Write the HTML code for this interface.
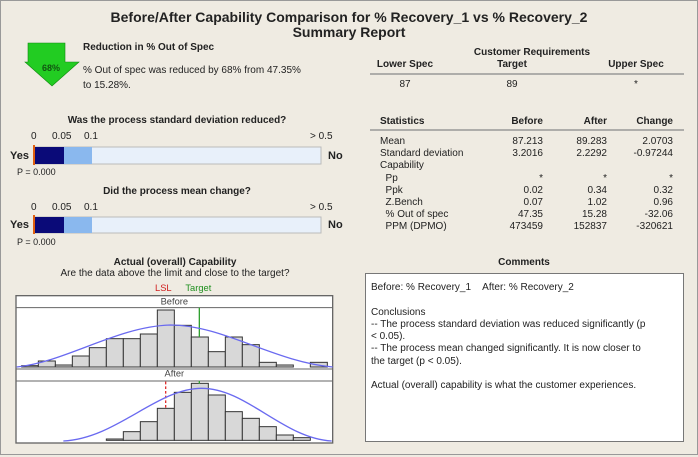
<!DOCTYPE html>
<html><head><meta charset="utf-8"><style>
body{margin:0;width:698px;height:457px;overflow:hidden;background:#efebe2;font-family:"Liberation Sans","DejaVu Sans",sans-serif;color:#222;}
.a{position:absolute;white-space:nowrap;font-size:10px;line-height:12px;}
.b{font-weight:bold;}
.c{transform:translateX(-50%);}
.r{transform:translateX(-100%);}
</style></head><body>
<div style="position:absolute;left:0;top:0;width:696px;height:453px;border:1px solid #999;"></div>
<div class="a b c" style="left:349px;top:9px;font-size:14px;line-height:16px;">Before/After Capability Comparison for % Recovery_1 vs % Recovery_2</div>
<div class="a b c" style="left:349px;top:24px;font-size:14px;line-height:16px;">Summary Report</div>
<svg style="position:absolute;left:0;top:0" width="698" height="457">
<polygon points="28,43 65,43 65,62 79,62 52,86 25,62 28,62" fill="#22cc22" stroke="#118811" stroke-width="0.6"/>
<text x="51" y="71" font-size="9" font-weight="bold" text-anchor="middle" fill="#115511" font-family="Liberation Sans">68%</text>
<rect x="34" y="147" width="287" height="17" fill="#e8f0fa" stroke="#bbb"/>
<rect x="34" y="147" width="30" height="17" fill="#0a0a78"/>
<rect x="64" y="147" width="28" height="17" fill="#8ab8ee"/>
<rect x="33" y="145" width="2" height="20" fill="#e06010"/>
<rect x="34" y="217" width="287" height="16" fill="#e8f0fa" stroke="#bbb"/>
<rect x="34" y="217" width="30" height="16" fill="#0a0a78"/>
<rect x="64" y="217" width="28" height="16" fill="#8ab8ee"/>
<rect x="33" y="215" width="2" height="19" fill="#e06010"/>
<line x1="370" y1="74" x2="684" y2="74" stroke="#888" stroke-width="1.2"/>
<line x1="370" y1="130" x2="684" y2="130" stroke="#888" stroke-width="1.2"/>
<rect x="365.5" y="273.5" width="318" height="168" fill="#fff" stroke="#777"/>
</svg>
<div class="a b" style="left:83px;top:42px;">Reduction in % Out of Spec</div>
<div class="a" style="left:83px;top:65px;">% Out of spec was reduced by 68% from 47.35%</div>
<div class="a" style="left:83px;top:80px;">to 15.28%.</div>
<div class="a b c" style="left:177px;top:115px;">Was the process standard deviation reduced?</div>
<div class="a" style="left:31px;top:131px;">0</div><div class="a" style="left:52px;top:131px;">0.05</div><div class="a" style="left:84px;top:131px;">0.1</div><div class="a" style="left:310px;top:131px;">&gt; 0.5</div>
<div class="a b" style="left:10px;top:150px;font-size:11px;">Yes</div><div class="a b" style="left:328px;top:150px;font-size:11px;">No</div>
<div class="a" style="left:17px;top:166px;font-size:9px;">P = 0.000</div>
<div class="a b c" style="left:177px;top:186px;">Did the process mean change?</div>
<div class="a" style="left:31px;top:202px;">0</div><div class="a" style="left:52px;top:202px;">0.05</div><div class="a" style="left:84px;top:202px;">0.1</div><div class="a" style="left:310px;top:202px;">&gt; 0.5</div>
<div class="a b" style="left:10px;top:219px;font-size:11px;">Yes</div><div class="a b" style="left:328px;top:219px;font-size:11px;">No</div>
<div class="a" style="left:17px;top:236px;font-size:9px;">P = 0.000</div>
<div class="a b c" style="left:175px;top:257px;">Actual (overall) Capability</div>
<div class="a c" style="left:175px;top:268px;">Are the data above the limit and close to the target?</div>
<svg style="position:absolute;left:0;top:255px" width="350" height="202" viewBox="0 0 1050 606">
<rect x="48" y="122" width="950" height="442" fill="#fff" stroke="#666" stroke-width="4"/>
<line x1="48" y1="158" x2="998" y2="158" stroke="#666" stroke-width="3"/>
<line x1="48" y1="342" x2="998" y2="342" stroke="#666" stroke-width="3"/>
<line x1="48" y1="378" x2="998" y2="378" stroke="#666" stroke-width="3"/>
<text x="490" y="108" font-size="28" fill="#d02020" text-anchor="middle" font-family="Liberation Sans">LSL</text>
<text x="595" y="108" font-size="28" fill="#209020" text-anchor="middle" font-family="Liberation Sans">Target</text>
<text x="523" y="148" font-size="28" fill="#444" text-anchor="middle" font-family="Liberation Sans">Before</text>
<text x="523" y="365" font-size="28" fill="#444" text-anchor="middle" font-family="Liberation Sans">After</text>
<g fill="#d8d8d8" stroke="#333" stroke-width="3">
<rect x="65" y="332" width="50" height="4"/><rect x="115" y="318" width="51" height="18"/><rect x="166" y="330" width="51" height="6"/>
<rect x="217" y="303" width="51" height="33"/><rect x="268" y="278" width="51" height="58"/><rect x="319" y="251" width="51" height="85"/>
<rect x="370" y="251" width="51" height="85"/><rect x="421" y="237" width="51" height="99"/><rect x="472" y="165" width="51" height="171"/>
<rect x="523" y="211" width="51" height="125"/><rect x="574" y="246" width="51" height="90"/><rect x="625" y="290" width="51" height="46"/>
<rect x="676" y="246" width="51" height="90"/><rect x="727" y="269" width="51" height="67"/><rect x="778" y="322" width="51" height="14"/>
<rect x="829" y="330" width="51" height="6"/><rect x="931" y="322" width="51" height="14"/>
<rect x="319" y="552" width="51" height="4"/><rect x="370" y="530" width="51" height="26"/><rect x="421" y="500" width="51" height="56"/><rect x="472" y="460" width="51" height="96"/>
<rect x="523" y="412" width="51" height="144"/><rect x="574" y="385" width="51" height="171"/><rect x="625" y="420" width="51" height="136"/>
<rect x="676" y="470" width="51" height="86"/><rect x="727" y="490" width="51" height="66"/><rect x="778" y="515" width="51" height="41"/>
<rect x="829" y="540" width="51" height="16"/><rect x="880" y="548" width="51" height="8"/>
</g>
<line x1="598" y1="158" x2="598" y2="246" stroke="#30a030" stroke-width="4"/>
<line x1="598" y1="378" x2="598" y2="386" stroke="#30a030" stroke-width="4"/>
<line x1="497" y1="380" x2="497" y2="460" stroke="#e03030" stroke-width="4" stroke-dasharray="8,6"/>
<path d="M50,336 C200,320 350,215 510,210 C670,210 820,320 998,336" fill="none" stroke="#6a6af0" stroke-width="4"/>
<path d="M190,558 C350,550 470,400 605,400 C740,400 850,550 995,558" fill="none" stroke="#6a6af0" stroke-width="4"/>
</svg>
<div class="a b c" style="left:532px;top:47px;">Customer Requirements</div>
<div class="a b c" style="left:405px;top:59px;">Lower Spec</div>
<div class="a b c" style="left:512px;top:59px;">Target</div>
<div class="a b c" style="left:636px;top:59px;">Upper Spec</div>
<div class="a c" style="left:405px;top:79px;">87</div>
<div class="a c" style="left:512px;top:79px;">89</div>
<div class="a c" style="left:636px;top:79px;">*</div>
<div class="a b" style="left:380px;top:116px;">Statistics</div>
<div class="a b r" style="left:543px;top:116px;">Before</div>
<div class="a b r" style="left:607px;top:116px;">After</div>
<div class="a b r" style="left:673px;top:116px;">Change</div>
<div class="a" style="left:380px;top:136px;line-height:12.2px;">Mean<br>Standard deviation<br>Capability<br>&nbsp;&nbsp;Pp<br>&nbsp;&nbsp;Ppk<br>&nbsp;&nbsp;Z.Bench<br>&nbsp;&nbsp;% Out of spec<br>&nbsp;&nbsp;PPM (DPMO)</div>
<div class="a r" style="left:543px;top:136px;line-height:12.2px;text-align:right;">87.213<br>3.2016<br>&nbsp;<br>*<br>0.02<br>0.07<br>47.35<br>473459</div>
<div class="a r" style="left:607px;top:136px;line-height:12.2px;text-align:right;">89.283<br>2.2292<br>&nbsp;<br>*<br>0.34<br>1.02<br>15.28<br>152837</div>
<div class="a r" style="left:673px;top:136px;line-height:12.2px;text-align:right;">2.0703<br>-0.97244<br>&nbsp;<br>*<br>0.32<br>0.96<br>-32.06<br>-320621</div>
<div class="a b c" style="left:524px;top:257px;">Comments</div>
<div class="a" style="left:371px;top:282px;line-height:12.3px;">Before: % Recovery_1&nbsp;&nbsp;&nbsp;&nbsp;After: % Recovery_2<br><br>Conclusions<br>-- The process standard deviation was reduced significantly (p<br>&lt; 0.05).<br>-- The process mean changed significantly. It is now closer to<br>the target (p &lt; 0.05).<br><br>Actual (overall) capability is what the customer experiences.</div>
</body></html>
